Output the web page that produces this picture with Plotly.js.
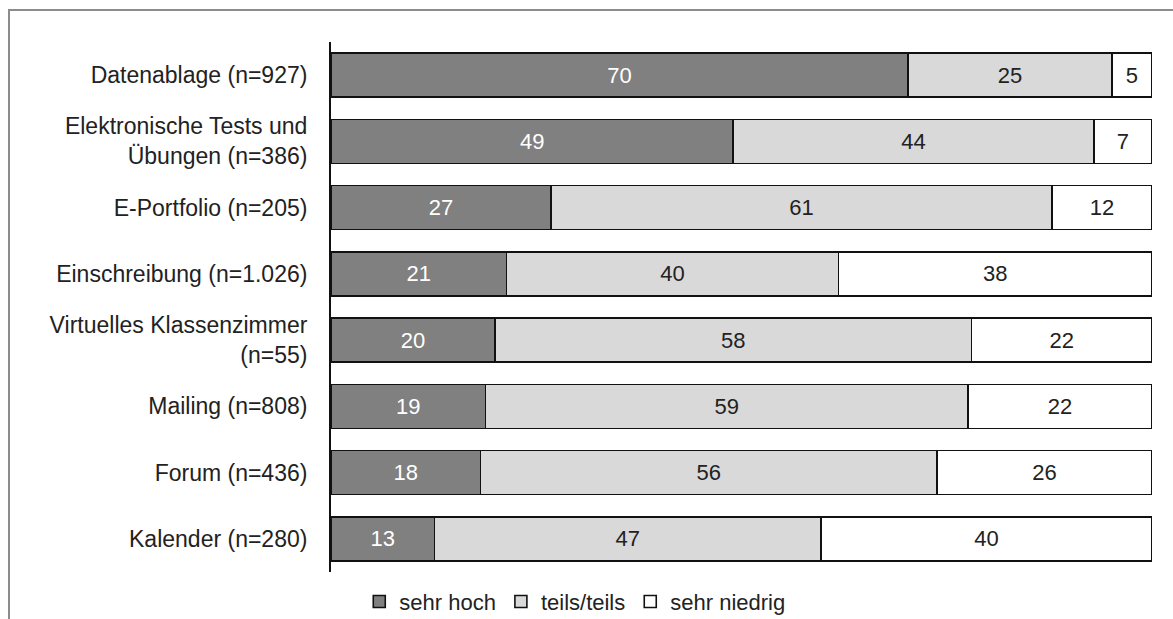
<!DOCTYPE html>
<html>
<head>
<meta charset="utf-8">
<script src="https://cdn.plot.ly/plotly-3.0.1.min.js"></script>
<style>
  html, body { margin: 0; padding: 0; background: #fff; }
  #chart { position: absolute; left: 0; top: 0; width: 1173px; height: 619px; }
  #frame { position: absolute; left: 8px; top: 9px; width: 1165px; height: 610px;
           border-left: 2px solid #8c8c8c; border-top: 2px solid #8c8c8c; pointer-events: none; }
</style>
</head>
<body>
<div id="chart"></div>
<div id="frame"></div>
<script>
const categories = [
  "Datenablage (n=927)",
  "Elektronische Tests und<br>Übungen (n=386)",
  "E-Portfolio (n=205)",
  "Einschreibung (n=1.026)",
  "Virtuelles Klassenzimmer<br>(n=55)",
  "Mailing (n=808)",
  "Forum (n=436)",
  "Kalender (n=280)"
];
const seriesNames = ["sehr hoch", "teils/teils", "sehr niedrig"];
const sehrHoch    = [70.3, 49.0, 26.8, 21.4, 20.0, 18.8, 18.2, 12.6];
const teilsTeils  = [24.8, 43.9, 61.0, 40.4, 58.0, 58.8, 55.6, 47.1];
const sehrNiedrig = [4.9, 7.1, 12.2, 38.2, 22.0, 22.4, 26.2, 40.3];

const FONT = "Liberation Sans, Arial, sans-serif";
const colors = ["#808080", "#d9d9d9", "#ffffff"];
const textColors = ["#ffffff", "#222222", "#222222"];
const values = [sehrHoch, teilsTeils, sehrNiedrig];

const traces = values.map((v, i) => ({
  type: "bar",
  orientation: "h",
  name: seriesNames[i],
  y: categories,
  x: v,
  marker: { color: colors[i], line: { color: "#111111", width: 1.6 } },
  texttemplate: "%{x:.0f}",
  textposition: "inside",
  insidetextanchor: "middle",
  textangle: 0,
  constraintext: "none",
  textfont: { family: FONT, size: 22, color: textColors[i] },
  hoverinfo: "skip"
}));

const layout = {
  width: 1173,
  height: 619,
  margin: { l: 331, r: 21, t: 42, b: 47 },
  paper_bgcolor: "#ffffff",
  plot_bgcolor: "#ffffff",
  barmode: "stack",
  bargap: 0.335,
  font: { family: FONT, size: 22, color: "#222222" },
  showlegend: true,
  legend: {
    orientation: "h",
    xref: "container",
    yref: "container",
    x: 0.49,
    xanchor: "center",
    y: 0.028,
    yanchor: "middle",
    traceorder: "normal",
    itemwidth: 30,
    font: { family: FONT, size: 22, color: "#222222" },
    bgcolor: "rgba(0,0,0,0)"
  },
  xaxis: {
    range: [0, 100],
    showticklabels: false,
    showgrid: false,
    zeroline: false,
    showline: false,
    ticks: ""
  },
  yaxis: {
    autorange: "reversed",
    showline: true,
    linecolor: "#111111",
    linewidth: 2,
    showgrid: false,
    zeroline: false,
    ticks: "",
    ticklabelstandoff: 17,
    tickfont: { family: FONT, size: 23, color: "#222222" }
  }
};

Plotly.newPlot("chart", traces, layout, { displayModeBar: false, staticPlot: true });
</script>
</body>
</html>
